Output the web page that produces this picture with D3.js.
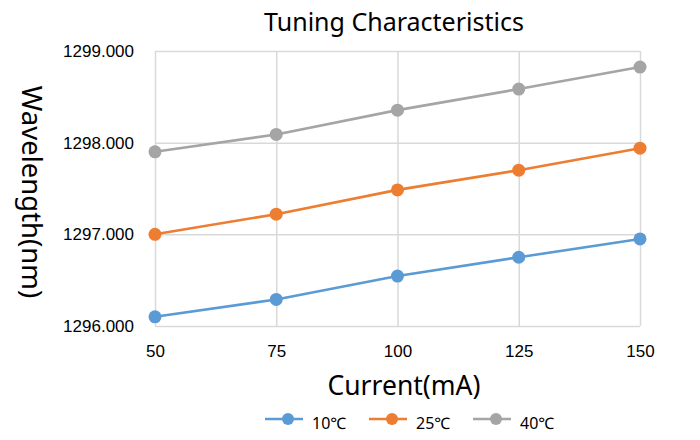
<!DOCTYPE html>
<html><head><meta charset="utf-8">
<script src="https://cdn.jsdelivr.net/npm/d3@7"></script>
<style>body{margin:0;background:#fff}svg{display:block;font-family:"Noto Sans","DejaVu Sans",sans-serif}</style>
</head><body>
<svg id="c" width="700" height="440"></svg>
<script>
const currents = [50, 75, 100, 125, 150];
const series10 = [1296.10, 1296.29, 1296.545, 1296.75, 1296.95];
const series25 = [1297.00, 1297.22, 1297.485, 1297.70, 1297.94];
const series40 = [1297.90, 1298.09, 1298.355, 1298.585, 1298.825];
const seriesNames = ["10℃", "25℃", "40℃"];
const colors = ["#5B9BD5", "#ED7D31", "#A5A5A5"];
const yTicks = [1296, 1297, 1298, 1299];

const allSeries = [series10, series25, series40];
const svg = d3.select("#c");
const m = {l:155, r:60, t:51, b:114};
const W = 700, H = 440;
const x = d3.scaleLinear().domain([50,150]).range([m.l, W-m.r]);
const y = d3.scaleLinear().domain([1296,1299]).range([H-m.b, m.t]);

// grid
const gx = svg.append("g").attr("transform",`translate(0,${H-m.b})`)
  .call(d3.axisBottom(x).tickValues(currents).tickSize(-(H-m.b-m.t)).tickPadding(19).tickFormat(d3.format("d")));
gx.select(".domain").remove();
gx.selectAll("line").attr("stroke","#D9D9D9").attr("stroke-width",1.5);
gx.selectAll("text").attr("font-size",17).attr("fill","#000");

const gy = svg.append("g").attr("transform",`translate(${m.l},0)`)
  .call(d3.axisLeft(y).tickValues(yTicks).tickSize(-(W-m.l-m.r)).tickPadding(21).tickFormat(d3.format(".3f")));
gy.select(".domain").remove();
gy.selectAll("line").attr("stroke","#D9D9D9").attr("stroke-width",1.5);
gy.selectAll("text").attr("font-size",17).attr("fill","#000");

const line = d3.line().x((d,i)=>x(currents[i])).y(d=>y(d));
allSeries.forEach((s,k)=>{
  svg.append("path").datum(s).attr("d",line).attr("fill","none")
    .attr("stroke",colors[k]).attr("stroke-width",2.6);
  svg.append("g").selectAll("circle").data(s).join("circle")
    .attr("cx",(d,i)=>x(currents[i])).attr("cy",d=>y(d)).attr("r",6.5).attr("fill",colors[k]);
});

svg.append("text").attr("x",394).attr("y",31).attr("text-anchor","middle")
  .attr("font-size",25).attr("fill","#000").text("Tuning Characteristics");
svg.append("text").attr("x",404).attr("y",395).attr("text-anchor","middle")
  .attr("font-size",26.5).attr("fill","#000").text("Current(mA)");
svg.append("text").attr("transform","translate(22,192) rotate(90)").attr("text-anchor","middle")
  .attr("font-size",27.5).attr("fill","#000").text("Wavelength(nm)");

// legend
const legX = [265, 369, 473];
seriesNames.forEach((n,k)=>{
  const g = svg.append("g").attr("transform",`translate(${legX[k]},419)`);
  g.append("line").attr("x1",0).attr("x2",38).attr("stroke",colors[k]).attr("stroke-width",2.6);
  g.append("circle").attr("cx",23).attr("r",6).attr("fill",colors[k]);
  g.append("text").attr("x",47).attr("y",10).attr("font-size",16).attr("fill","#000").text(n);
});
</script>
</body></html>
